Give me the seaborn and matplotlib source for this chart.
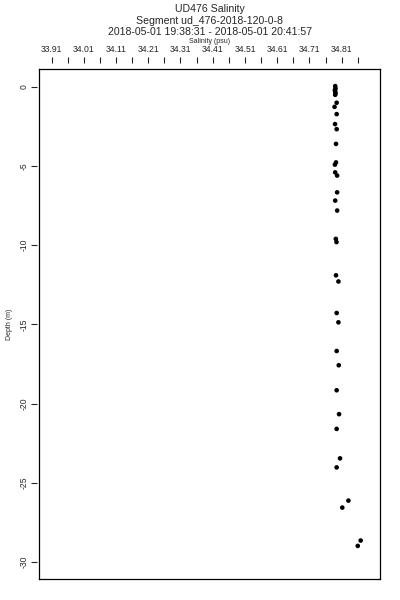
"""
UD476 salinity profile, depth vs salinity.
"""

import numpy as np
import matplotlib
matplotlib.use("Agg")
import matplotlib.pyplot as plt
import seaborn as sns

# Data
depth_m = [0.05, -0.1, -0.2, -0.3, -0.4, -0.5, -1.0, -1.26, -1.72, -2.35,
           -2.67, -3.6, -4.77, -4.91, -5.4, -5.6, -6.66, -7.18, -7.81, -9.6,
           -9.8, -11.9, -12.29, -14.28, -14.87, -16.68, -17.58, -19.16,
           -20.67, -21.6, -23.46, -24.03, -26.13, -26.57, -28.65, -28.99]
salinity_psu = [34.790, 34.791, 34.789, 34.790, 34.791, 34.790, 34.7945,
                34.788, 34.7945, 34.7895, 34.7945, 34.7925, 34.7925, 34.789,
                34.790, 34.796, 34.796, 34.790, 34.796, 34.792, 34.794,
                34.7925, 34.800, 34.7945, 34.800, 34.7945, 34.801, 34.7945,
                34.802, 34.7945, 34.805, 34.7945, 34.831, 34.812, 34.869,
                34.860]

x_ticks = [round(33.91 + 0.05 * i, 2) for i in range(20)]
x_labels = [f"{v:.2f}" if i % 2 == 0 else "" for i, v in enumerate(x_ticks)]
y_ticks = [0, -5, -10, -15, -20, -25, -30]

title_lines = ["UD476 Salinity",
               "Segment ud_476-2018-120-0-8",
               "2018-05-01 19:38:31 - 2018-05-01 20:41:57"]

sns.set_style("white")
plt.rcParams['font.family'] = ['Liberation Sans', 'DejaVu Sans']
plt.rcParams['axes.unicode_minus'] = False

fig = plt.figure(figsize=(4, 6), dpi=100)
ax = fig.add_axes([0.0975, 0.035, 0.8525, 0.8500])

sns.scatterplot(x=salinity_psu, y=depth_m, color="black", s=11,
                edgecolor="none", marker="o", ax=ax)

ax.set_xlim(33.871, 34.929)
ax.set_ylim(-31.08, 1.13)

for side in ["top", "bottom", "left", "right"]:
    ax.spines[side].set_visible(True)
    ax.spines[side].set_color("black")
    ax.spines[side].set_linewidth(0.9)
ax.set_xticks([])
ax.set_yticks([])

# Top axis, detached from the box like R's axis()
top = ax.secondary_xaxis(1.012)
top.set_xticks(x_ticks)
top.set_xticklabels(x_labels, fontsize=6.2)
top.spines["top"].set_visible(False)
top.tick_params(direction="out", length=4, width=0.8, pad=2.5)
top.set_xlabel("Salinity (psu)", fontsize=5, labelpad=1)

left = ax.secondary_yaxis(-0.006)
left.set_yticks(y_ticks)
left.set_yticklabels([str(v) for v in y_ticks], fontsize=6.2,
                     rotation=90, va="center")
left.spines["left"].set_visible(False)
left.tick_params(direction="out", length=4, width=0.8, pad=2)
left.set_ylabel("Depth (m)", fontsize=5, labelpad=5)

for i, line in enumerate(title_lines):
    fig.text(0.524, 0.993 - i * 0.0192, line, ha="center", va="top",
             fontsize=7.6)

fig.savefig("out.png", dpi=100)
plt.close(fig)
